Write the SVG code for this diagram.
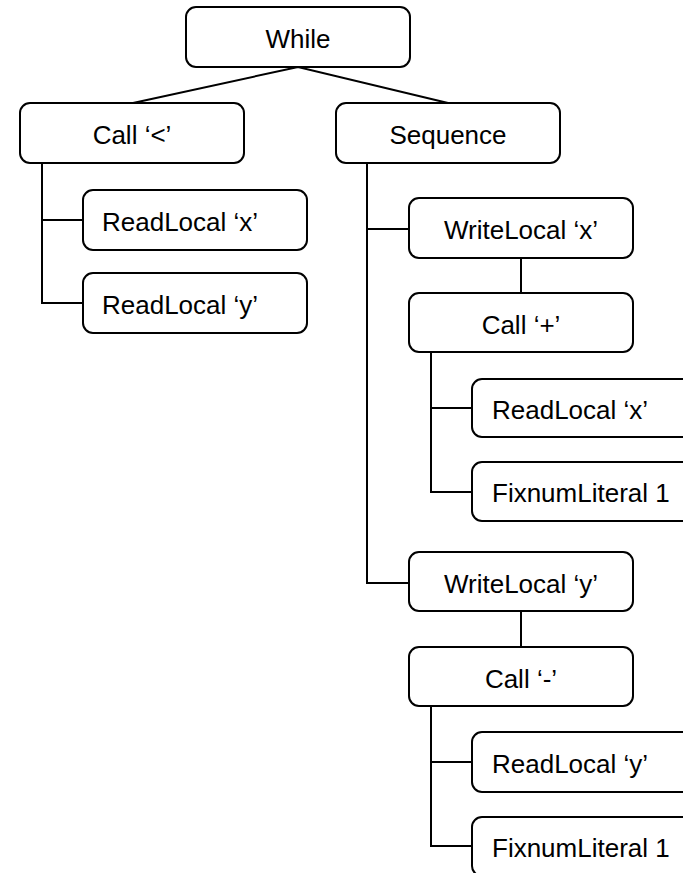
<svg xmlns="http://www.w3.org/2000/svg" width="683" height="873" viewBox="0 0 683 873">
<style>
.box{fill:#fff;stroke:#000;stroke-width:2}
.lbl{font-family:"Liberation Sans",Arial,sans-serif;font-size:26px;fill:#000}
.c{text-anchor:middle}
.conn{fill:none;stroke:#000;stroke-width:2}
</style>
<rect width="683" height="873" fill="#fff"/>
<g id="connectors" class="conn">
<polyline points="133,103 298,67 448,103"/>
<polyline points="83,220 42,220 42,163 42,303 83,303"/>
<polyline points="409,229 367,229 367,163 367,583 409,583"/>
<line x1="521" y1="258" x2="521" y2="293"/>
<polyline points="472,408 431,408 431,352 431,492 472,492"/>
<line x1="521" y1="611" x2="521" y2="647"/>
<polyline points="472,762 431,762 431,706 431,846 472,846"/>
</g>
<g id="while"><rect class="box" x="186" y="7" width="224" height="60" rx="10"/><text class="lbl c" x="298" y="48">While</text></g>
<g id="call-lt"><rect class="box" x="20" y="103" width="224" height="60" rx="10"/><text class="lbl c" x="132" y="144">Call ‘&lt;’</text></g>
<g id="sequence"><rect class="box" x="336" y="103" width="224" height="60" rx="10"/><text class="lbl c" x="448" y="144">Sequence</text></g>
<g id="readlocal-x1"><rect class="box" x="83" y="190" width="224" height="60" rx="10"/><text class="lbl" x="102" y="231">ReadLocal ‘x’</text></g>
<g id="readlocal-y1"><rect class="box" x="83" y="273" width="224" height="60" rx="10"/><text class="lbl" x="102" y="314">ReadLocal ‘y’</text></g>
<g id="writelocal-x"><rect class="box" x="409" y="198" width="224" height="60" rx="10"/><text class="lbl c" x="521" y="239">WriteLocal ‘x’</text></g>
<g id="call-plus"><rect class="box" x="409" y="293" width="224" height="59" rx="10"/><text class="lbl c" x="521" y="334">Call ‘+’</text></g>
<g id="readlocal-x2"><rect class="box" x="472" y="379" width="240" height="58" rx="10"/><text class="lbl" x="492" y="419">ReadLocal ‘x’</text></g>
<g id="fixnum-1a"><rect class="box" x="472" y="462" width="240" height="59" rx="10"/><text class="lbl" x="492" y="502">FixnumLiteral 1</text></g>
<g id="writelocal-y"><rect class="box" x="409" y="552" width="224" height="59" rx="10"/><text class="lbl c" x="521" y="593">WriteLocal ‘y’</text></g>
<g id="call-minus"><rect class="box" x="409" y="647" width="224" height="59" rx="10"/><text class="lbl c" x="521" y="688">Call ‘-’</text></g>
<g id="readlocal-y2"><rect class="box" x="472" y="732" width="240" height="60" rx="10"/><text class="lbl" x="492" y="773">ReadLocal ‘y’</text></g>
<g id="fixnum-1b"><rect class="box" x="472" y="817" width="240" height="59" rx="10"/><text class="lbl" x="492" y="857">FixnumLiteral 1</text></g>
</svg>
